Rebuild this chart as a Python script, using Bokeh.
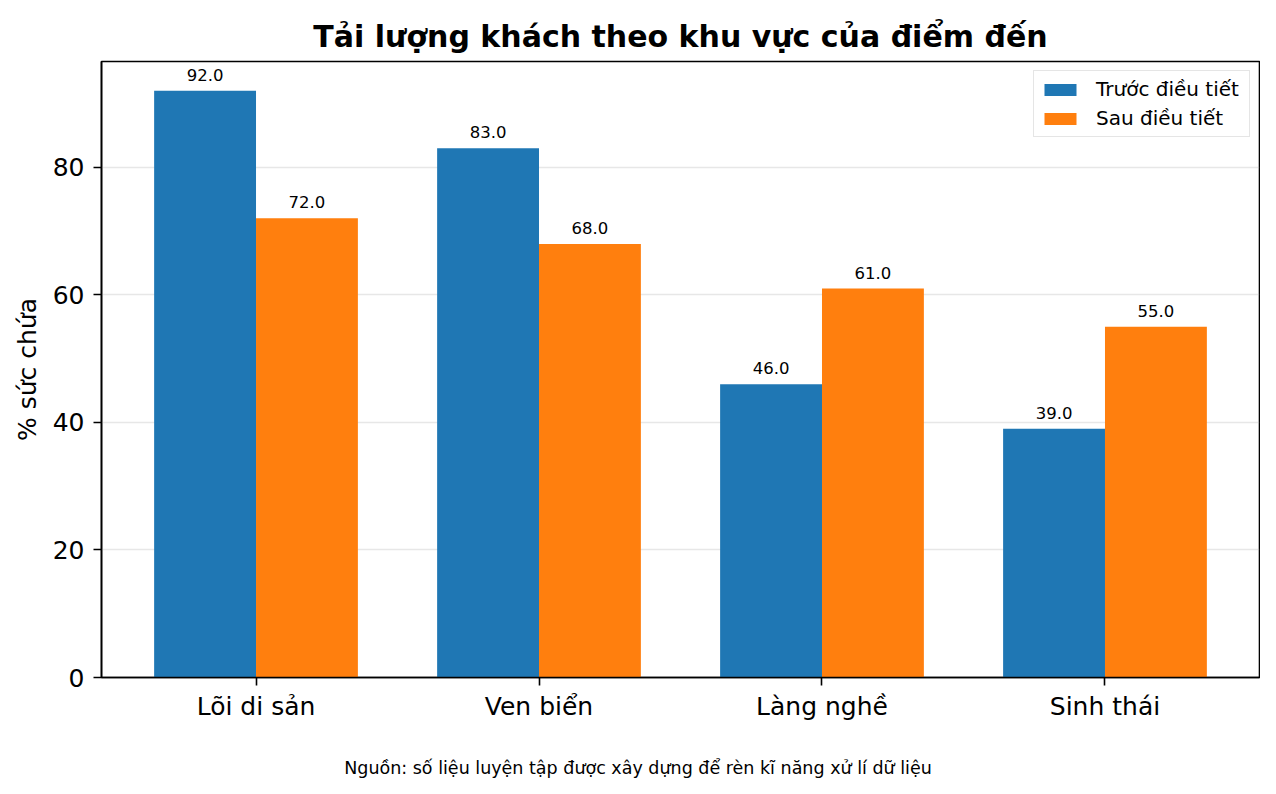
import numpy as np
from bokeh.plotting import figure
from bokeh.layouts import column
from bokeh.models import Range1d, FixedTicker, Legend, LegendItem, Div, ColumnDataSource, LabelSet
from bokeh.core.properties import value
from bokeh.embed import file_html
from bokeh.resources import INLINE

categories = ["Lõi di sản", "Ven biển", "Làng nghề", "Sinh thái"]
before = [92.0, 83.0, 46.0, 39.0]
after = [72.0, 68.0, 61.0, 55.0]
series_names = ["Trước điều tiết", "Sau điều tiết"]
y_ticks = [0, 20, 40, 60, 80]
source_note = "Nguồn: số liệu luyện tập được xây dựng để rèn kĩ năng xử lí dữ liệu"

FONT = "DejaVu Sans"
BLUE = "#1f77b4"
ORANGE = "#ff7f0e"
bw = 0.36

idx = np.arange(len(categories))
src_b = ColumnDataSource(dict(x=idx - bw / 2, top=before, lab=[f"{v:.1f}" for v in before]))
src_a = ColumnDataSource(dict(x=idx + bw / 2, top=after, lab=[f"{v:.1f}" for v in after]))

p = figure(width=1260, height=730, output_backend="svg", toolbar_location=None,
           x_range=Range1d(-0.546, 3.546), y_range=Range1d(0, 96.6),
           min_border_left=101, min_border_right=1, min_border_top=61, min_border_bottom=53)

p.title.text = "Tải lượng khách theo khu vực của điểm đến"
p.title.text_font = FONT
p.title.text_font_size = "30px"
p.title.text_font_style = "bold"
p.title.align = "center"
p.title.text_color = "black"
p.title.standoff = 15

rb = p.vbar(x="x", top="top", width=bw, source=src_b, fill_color=BLUE, line_color=None)
ra = p.vbar(x="x", top="top", width=bw, source=src_a, fill_color=ORANGE, line_color=None)

for s in (src_b, src_a):
    p.add_layout(LabelSet(x="x", y="top", text="lab", source=s, text_align="center",
                          text_baseline="bottom", y_offset=10, text_font=value(FONT),
                          text_font_size=value("16.5px"), text_color="black"))

p.xaxis.ticker = FixedTicker(ticks=list(idx))
p.xaxis.major_label_overrides = {int(i): c for i, c in zip(idx, categories)}
p.yaxis.ticker = FixedTicker(ticks=y_ticks)
for ax in (p.xaxis, p.yaxis):
    ax.major_label_text_font = FONT
    ax.major_label_text_font_size = "25px"
    ax.major_label_text_color = "black"
    ax.axis_line_color = "black"
    ax.axis_line_width = 1.6
    ax.major_tick_line_color = "black"
    ax.major_tick_line_width = 1.6
    ax.major_tick_out = 8
    ax.major_tick_in = 0
    ax.minor_tick_line_color = None
p.xaxis.major_label_standoff = 6
p.yaxis.major_label_standoff = 9
p.yaxis.axis_label = "% sức chứa"
p.yaxis.axis_label_text_font = FONT
p.yaxis.axis_label_text_font_size = "25px"
p.yaxis.axis_label_text_font_style = "normal"
p.yaxis.axis_label_text_color = "black"
p.yaxis.axis_label_standoff = 8

p.xgrid.grid_line_color = None
p.ygrid.grid_line_color = "#b0b0b0"
p.ygrid.grid_line_alpha = 0.3
p.ygrid.grid_line_width = 1.5
p.outline_line_color = "black"
p.outline_line_width = 1.6
p.outline_line_alpha = 1.0

legend = Legend(items=[LegendItem(label=series_names[0], renderers=[rb]),
                       LegendItem(label=series_names[1], renderers=[ra])],
                location="top_right", label_text_font=FONT, label_text_font_size="20px",
                label_text_color="black",
                glyph_width=40, glyph_height=15, spacing=5, padding=6, margin=9,
                label_width=147,
                border_line_color="#cccccc", border_line_width=1.5,
                background_fill_alpha=0.8, label_standoff=16)
p.add_layout(legend)

note = Div(text=source_note, width=1260, margin=(26, 0, 0, 8),
           styles={"font-family": FONT, "font-size": "17.5px", "color": "black",
                   "text-align": "center", "width": "1260px", "display": "block"})

open("out.html", "w").write(file_html(column(p, note), INLINE))
